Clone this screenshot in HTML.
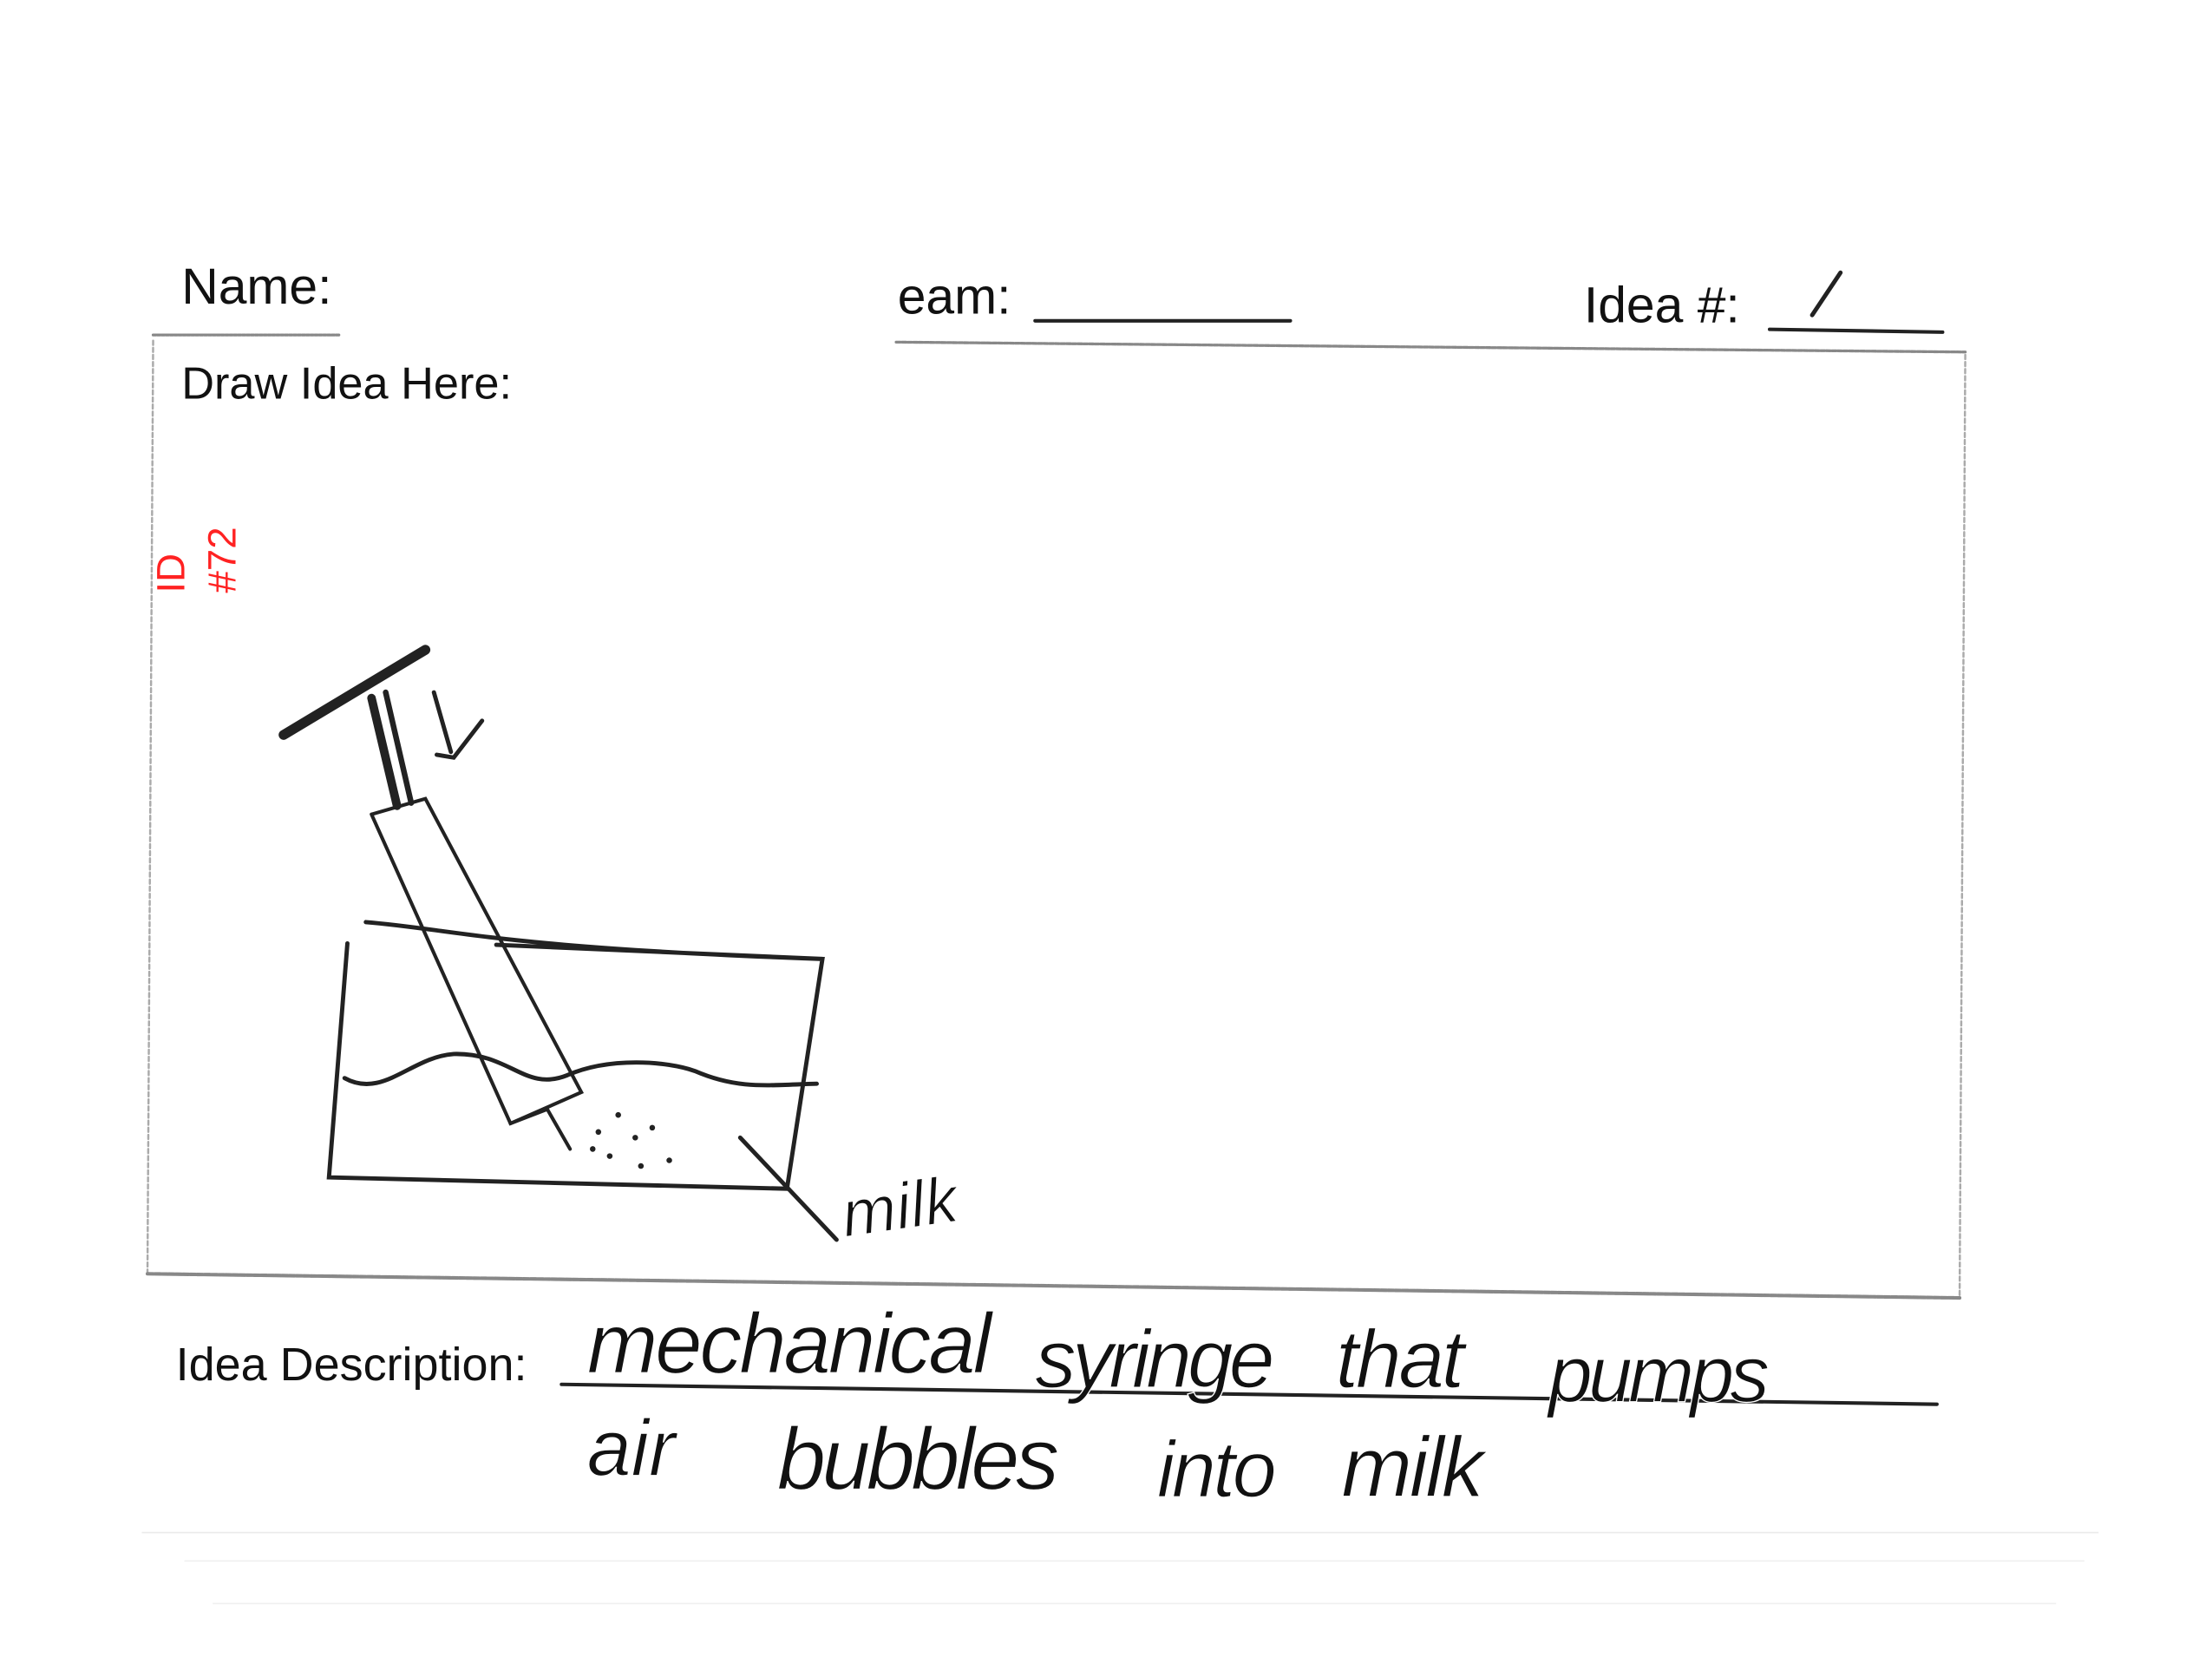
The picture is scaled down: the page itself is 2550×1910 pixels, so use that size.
<!DOCTYPE html>
<html><head><meta charset="utf-8"><style>
html,body{margin:0;padding:0;background:#fff;}
svg{display:block}
</style></head><body>
<svg width="2550" height="1910" viewBox="0 0 1560 1168" xmlns="http://www.w3.org/2000/svg">
<rect width="1560" height="1168" fill="#fff"/>
<g font-family="Liberation Sans, sans-serif" fill="#111">
<text x="128" y="214" font-size="36">Name:</text>
<text x="633" y="221" font-size="36">eam:</text>
<text x="1117" y="227" font-size="36">Idea #:</text>
<text x="128" y="281" font-size="32">Draw Idea Here:</text>
<text x="124" y="973" font-size="33">Idea Description:</text>
</g>
<text transform="translate(130,418) rotate(-90)" font-family="Liberation Sans, sans-serif" font-size="28" fill="#f22">ID</text>
<text transform="translate(166,418) rotate(-90)" font-family="Liberation Sans, sans-serif" font-size="28" fill="#f22">#72</text>
<g stroke="#222" fill="none" stroke-linecap="round">
<line x1="730" y1="226" x2="910" y2="226" stroke-width="2.5"/>
<line x1="1248" y1="232" x2="1370" y2="234" stroke-width="2.5"/>
<line x1="1278" y1="222" x2="1298" y2="192" stroke-width="3"/>
<line x1="108" y1="236" x2="240" y2="236" stroke-width="2" stroke-dasharray="2 1" stroke="#888"/>
<line x1="632" y1="241" x2="1386" y2="248" stroke-width="2" stroke-dasharray="3 1" stroke="#888"/>
<line x1="108" y1="240" x2="104" y2="898" stroke-width="1.5" stroke="#aaa" stroke-dasharray="3 2"/>
<line x1="1386" y1="250" x2="1382" y2="915" stroke-width="1.5" stroke="#aaa" stroke-dasharray="3 2"/>
<line x1="104" y1="898" x2="1382" y2="915" stroke-width="2.5" stroke="#888" stroke-dasharray="4 1"/>
<line x1="396" y1="976" x2="1366" y2="990" stroke-width="2.5"/>
<line x1="200" y1="518" x2="300" y2="458" stroke-width="7"/>
<line x1="262" y1="492" x2="280" y2="568" stroke-width="6"/>
<line x1="272" y1="488" x2="290" y2="566" stroke-width="4"/>
<polyline points="262,574 300,563 410,770 360,792 262,574" stroke-width="2.5"/>
<polyline points="360,792 386,782 402,810" stroke-width="2.5"/>
<path d="M306,488 L318,530 M308,532 L320,534 L340,508" stroke-width="3"/>
<path d="M245,665 L232,830 L555,838 L580,676 L350,666 M258,650 C320,655 350,668 580,676" stroke-width="3"/>
<path d="M243,760 C270,775 290,745 320,743 C360,742 370,770 400,758 C430,745 470,748 490,755 C520,768 540,765 576,764" stroke-width="3"/>
<path d="M522,802 L590,874" stroke-width="3"/>
<g fill="#222" stroke="none">
<circle cx="422" cy="798" r="2"/><circle cx="436" cy="786" r="2"/><circle cx="448" cy="802" r="2"/><circle cx="460" cy="795" r="2"/>
<circle cx="418" cy="810" r="2"/><circle cx="452" cy="822" r="2"/><circle cx="472" cy="818" r="2"/><circle cx="430" cy="815" r="2"/>
</g>
</g>
<g font-family="Liberation Sans, sans-serif" fill="#111" font-style="italic" stroke="#fff" stroke-width="0.8">
<text x="596" y="872" font-size="46" transform="rotate(-8 596 872)">milk</text>
<text x="414" y="968" font-size="60" letter-spacing="-2">mechanical</text>
<text x="730" y="978" font-size="58" letter-spacing="-3">syringe</text>
<text x="942" y="978" font-size="58" letter-spacing="-2">that</text>
<text x="1092" y="988" font-size="56" letter-spacing="-3">pumps</text>
<text x="414" y="1040" font-size="56">air</text>
<text x="548" y="1050" font-size="62" letter-spacing="-3">bubbles</text>
<text x="816" y="1055" font-size="56" letter-spacing="-2">into</text>
<text x="946" y="1055" font-size="60" letter-spacing="-2">milk</text>
</g>
<g fill="#ccc">
<rect x="100" y="1080" width="1380" height="1" opacity="0.4"/>
<rect x="130" y="1100" width="1340" height="1" opacity="0.3"/>
<rect x="150" y="1130" width="1300" height="1" opacity="0.3"/>
</g>
</svg>
</body></html>
